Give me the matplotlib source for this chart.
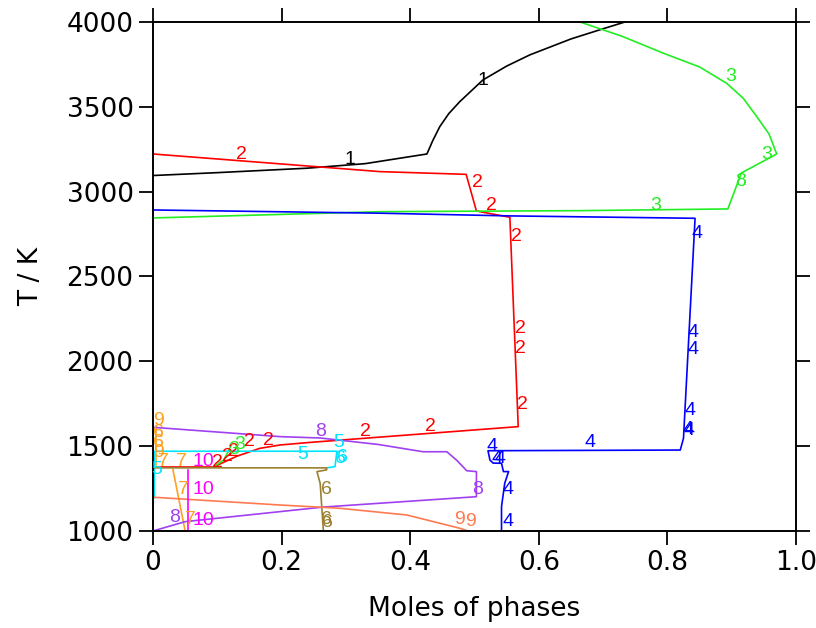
import matplotlib
matplotlib.use("Agg")
import matplotlib.pyplot as plt
from matplotlib.ticker import FixedLocator, FuncFormatter

plt.rcParams['font.family'] = ['DejaVu Sans']

# ---- data (moles of phase vs temperature) ----
x1 = [0.0, 0.10, 0.239, 0.33, 0.426, 0.435, 0.446, 0.46, 0.477, 0.513, 0.55, 0.586, 0.65, 0.70, 0.734]
T1 = [3095, 3112, 3138, 3165, 3222, 3300, 3383, 3460, 3530, 3658, 3740, 3806, 3900, 3960, 4000]

x2 = [0.0, 0.353, 0.487, 0.503, 0.555, 0.568, 0.568, 0.244, 0.198, 0.166, 0.13, 0.094, 0.0]
T2 = [3222, 3118, 3102, 2886, 2849, 1615, 1615, 1522, 1507, 1487, 1440, 1377, 1377]

x3 = [0.0, 0.353, 0.664, 0.894, 0.915, 0.970, 0.958, 0.939, 0.918, 0.892, 0.85, 0.793, 0.73, 0.664]
T3 = [2845, 2882, 2888, 2898, 3110, 3222, 3340, 3442, 3550, 3639, 3735, 3817, 3915, 4000]
x3b = [0.094, 0.11, 0.122]
T3b = [1377, 1418, 1507]

x4 = [0.0, 0.353, 0.555, 0.843, 0.825, 0.820, 0.521, 0.524, 0.529, 0.542, 0.545, 0.553, 0.547, 0.542, 0.542]
T4 = [2892, 2873, 2857, 2843, 1546, 1477, 1473, 1418, 1400, 1399, 1350, 1350, 1281, 1143, 1000]

x5 = [0.002, 0.002, 0.286, 0.283, 0.27]
T5 = [1195, 1470, 1470, 1379, 1372]

x6 = [0.0, 0.27, 0.27, 0.255, 0.26, 0.265]
T6 = [1372, 1372, 1360, 1350, 1280, 1000]

x7 = [0.031, 0.05]
T7 = [1362, 1000]
x7b = [0.004, 0.004]
T7b = [1380, 1620]

x8 = [0.0, 0.198, 0.26, 0.35, 0.42, 0.457, 0.472, 0.488, 0.503, 0.503, 0.265, 0.05, 0.0]
T8 = [1611, 1556, 1548, 1510, 1467, 1467, 1418, 1355, 1350, 1202, 1141, 1055, 1000]

x9 = [0.0, 0.198, 0.29, 0.395, 0.477, 0.49]
T9 = [1199, 1153, 1134, 1094, 1016, 1000]

x10 = [0.055, 0.055]
T10 = [1362, 1000]

# curve labels: x, T, text
lab1_x = [0.513, 0.306]
lab1_T = [3658, 3190]
lab2_x = [0.137, 0.504, 0.526, 0.565, 0.571, 0.571, 0.574, 0.431, 0.33, 0.179, 0.150, 0.125, 0.115, 0.100]
lab2_T = [3216, 3051, 2921, 2733, 2196, 2078, 1743, 1613, 1584, 1536, 1530, 1470, 1440, 1405]
lab3_x = [0.899, 0.955, 0.781, 0.135, 0.125]
lab3_T = [3676, 3216, 2921, 1510, 1480]
lab8g_x = [0.913]
lab8g_T = [3057]
lab4_x = [0.846, 0.840, 0.840, 0.835, 0.832, 0.833, 0.680, 0.527, 0.535, 0.540, 0.552, 0.552]
lab4_T = [2756, 2167, 2067, 1713, 1600, 1590, 1519, 1495, 1430, 1430, 1242, 1053]
lab5_x = [0.232, 0.289, 0.006]
lab5_T = [1448, 1519, 1360]
lab6c_x = [0.292, 0.294]
lab6c_T = [1430, 1432]
lab6_x = [0.269, 0.269, 0.271]
lab6_T = [1242, 1070, 1050]
lab7_x = [0.016, 0.044, 0.047, 0.058]
lab7_T = [1407, 1407, 1242, 1065]
lab8_x = [0.26, 0.505, 0.033]
lab8_T = [1584, 1242, 1077]
lab9_x = [0.477, 0.493]
lab9_T = [1065, 1053]
lab9o_x = [0.008, 0.008, 0.008, 0.008]
lab9o_T = [1654, 1580, 1520, 1460]
lab9o_t = ['9', '6', '6', '9']
lab10_x = [0.078, 0.078, 0.078]
lab10_T = [1407, 1242, 1059]

c1, c2, c3, c4 = '#000000', '#ff0000', '#22ee22', '#0000ff'
c5, c6, c7, c8 = '#00e5ff', '#9a8030', '#ffa020', '#a040f0'
c9, c10 = '#ff7a50', '#ff00ff'

fig = plt.figure(figsize=(8.16, 6.28), dpi=100)
ax = fig.add_axes([0.1875, 0.1545, 0.788, 0.8105])

lw = 1.2
ax.plot(x1, T1, color=c1, lw=lw)
ax.plot(x2, T2, color=c2, lw=lw)
ax.plot(x3, T3, color=c3, lw=lw)
ax.plot(x3b, T3b, color=c3, lw=lw)
ax.plot(x4, T4, color=c4, lw=lw)
ax.plot(x5, T5, color=c5, lw=lw)
ax.plot(x6, T6, color=c6, lw=lw)
ax.plot(x7, T7, color=c7, lw=lw)
ax.plot(x7b, T7b, color=c7, lw=lw)
ax.plot(x8, T8, color=c8, lw=lw)
ax.plot(x9, T9, color=c9, lw=lw)
ax.plot(x10, T10, color=c10, lw=lw)

fs = 14
def labels(xs, ts, txt, col):
    for i, (xx, tt) in enumerate(zip(xs, ts)):
        t = txt[i] if isinstance(txt, list) else txt
        ax.text(xx, tt, t, color=col, fontsize=fs, ha='center', va='center',
                family=['Liberation Sans', 'DejaVu Sans'])

labels(lab1_x, lab1_T, '1', c1)
labels(lab2_x, lab2_T, '2', c2)
labels(lab3_x, lab3_T, '3', c3)
labels(lab8g_x, lab8g_T, '8', c3)
labels(lab4_x, lab4_T, '4', c4)
labels(lab5_x, lab5_T, '5', c5)
labels(lab6c_x, lab6c_T, '6', c5)
labels(lab6_x, lab6_T, '6', c6)
labels(lab7_x, lab7_T, '7', c7)
labels(lab8_x, lab8_T, '8', c8)
labels(lab9_x, lab9_T, '9', c9)
labels(lab9o_x, lab9o_T, lab9o_t, c7)
labels(lab10_x, lab10_T, '10', c10)

ax.set_xlim(0, 1.0)
ax.set_ylim(1000, 4000)
xt = [0, 0.2, 0.4, 0.6, 0.8, 1.0]
yt = [1000, 1500, 2000, 2500, 3000, 3500, 4000]
ax.xaxis.set_major_locator(FixedLocator(xt))
ax.yaxis.set_major_locator(FixedLocator(yt))
ax.xaxis.set_major_formatter(FuncFormatter(lambda v, p: '0' if v == 0 else f'{v:.1f}'))
ax.yaxis.set_major_formatter(FuncFormatter(lambda v, p: f'{int(v)}'))
ax.tick_params(direction='out', length=10, width=1.3, labelsize=19,
               top=True, right=True, pad=4)
for s in ax.spines.values():
    s.set_linewidth(1.4)
ax.set_xlabel('Moles of phases', fontsize=19, labelpad=14)
ax.set_ylabel('T / K', fontsize=19, labelpad=16)

fig.savefig('out.png', dpi=100)
